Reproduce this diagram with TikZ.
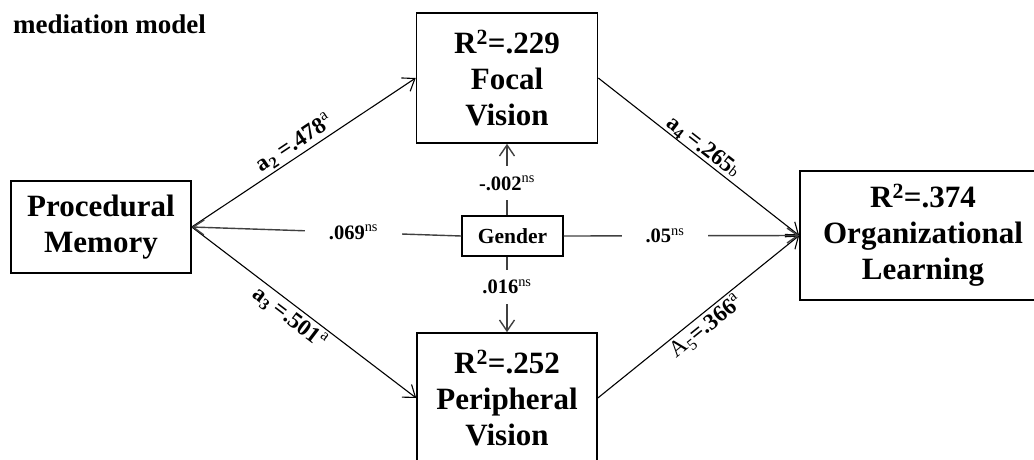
\documentclass[tikz,border=0pt]{standalone}
\usepackage{fontspec}
\setmainfont{Liberation Serif}
\usetikzlibrary{arrows.meta}

\begin{document}
\begin{tikzpicture}[x=1pt,y=-1pt,
	box/.style={draw,line width=1.6pt,align=center,inner sep=0pt,font=\fontsize{31}{36}\selectfont\bfseries},
	link/.style={line width=1.1pt,-{Straight Barb[length=11pt,width=16pt]}},
	glink/.style={line width=1.4pt,draw=black!75,-{Straight Barb[length=11pt,width=15pt]}},
	coef/.style={sloped,font=\fontsize{23}{23}\selectfont\bfseries,inner sep=2pt},
	glbl/.style={fill=white,font=\fontsize{20.5}{20.5}\selectfont\bfseries,inner xsep=24pt,inner ysep=4pt},
	vlbl/.style={fill=white,font=\fontsize{20.5}{20.5}\selectfont\bfseries,inner xsep=4pt,inner ysep=10pt}]
	
	\useasboundingbox (0,0) rectangle (1034,459);
	\clip (0,0) rectangle (1034,459);
	
	\node[anchor=base west,inner sep=0pt,font=\fontsize{27}{27}\selectfont\bfseries] (title) at (13,33) {mediation model};
	
	\node[box,minimum width=180pt,minimum height=92pt] (proc) at (101,227) {Procedural\\Memory};
	\node[box,minimum width=181pt,minimum height=130pt] (focal) at (507,78) {R\textsuperscript{2}=.229\\Focal\\Vision};
	\node[box,minimum width=180pt,minimum height=130pt] (periph) at (507,398) {R\textsuperscript{2}=.252\\Peripheral\\Vision};
	\node[box,minimum width=246pt,minimum height=129pt] (org) at (923,235.5) {R\textsuperscript{2}=.374\\Organizational\\Learning};
	\node[draw,line width=1.4pt,minimum width=101pt,minimum height=40pt,inner sep=0pt,font=\fontsize{21.5}{22}\selectfont\bfseries] (gender) at (512.5,236) {Gender};
	
	% paths through the mediators
	\draw[link] (proc.east) -- node[coef,above,pos=0.49] {a\textsubscript{2} =.478\textsuperscript{\normalfont a}} (focal.west);
	\draw[link] (proc.east) -- node[coef,below,pos=0.47] {a\textsubscript{3} =.501\textsuperscript{\normalfont a}} (periph.west);
	\draw[link] (focal.east) -- node[coef,above,pos=0.49,inner sep=0pt] {a\textsubscript{4} =.265{\normalfont\fontsize{15}{15}\selectfont b}} (org.west);
	\draw[link] (periph.east) -- node[coef,below,pos=0.5] {{\normalfont A\textsubscript{5}}=.366\textsuperscript{\normalfont a}} (org.west);
	
	% control variable
	\draw[glink] (gender.west) -- node[glbl,pos=0.4] {.069\textsuperscript{\normalfont ns}} (proc.east);
	\draw[glink] (gender.east) -- node[glbl,pos=0.43] {.05\textsuperscript{\normalfont ns}} (org.west);
	\draw[glink] (gender.north -| focal.south) -- node[vlbl,pos=0.45] {-.002\textsuperscript{\normalfont ns}} (focal.south);
	\draw[glink] (gender.south -| periph.north) -- node[vlbl,pos=0.4] {.016\textsuperscript{\normalfont ns}} (periph.north);
	
\end{tikzpicture}
\end{document}
